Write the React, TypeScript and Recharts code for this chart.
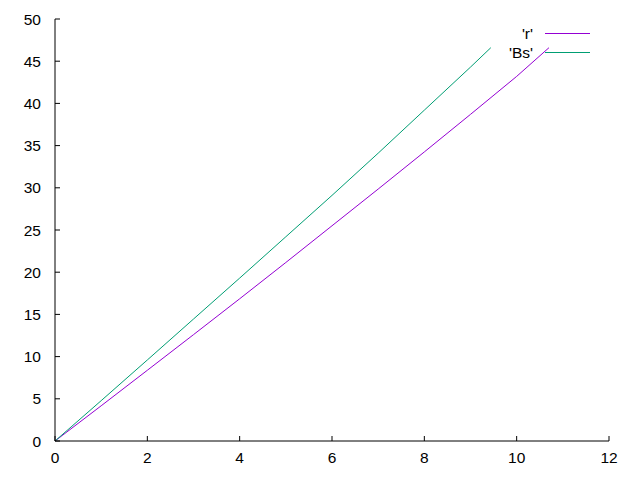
import { LineChart, Line, XAxis, YAxis } from 'recharts'

// values
const rX = [0, 1, 2, 3, 4, 5, 6, 7, 8, 9, 10, 10.7]
const rY = [0, 4.17, 8.38, 12.6, 16.85, 21.15, 25.5, 29.85, 34.25, 38.7, 43.2, 46.6]
const bsX = [0, 1, 2, 3, 4, 5, 6, 7, 8, 9, 9.44]
const bsY = [0, 4.78, 9.6, 14.45, 19.3, 24.2, 29.1, 34.1, 39.2, 44.3, 46.6]

const xTicks = [0, 2, 4, 6, 8, 10, 12]
const yTicks = [0, 5, 10, 15, 20, 25, 30, 35, 40, 45, 50]

const series = [
  { name: "'r'", color: '#9400d3', data: rX.map((x, i) => ({ x, y: rY[i] })) },
  { name: "'Bs'", color: '#009e73', data: bsX.map((x, i) => ({ x, y: bsY[i] })) },
]

const font = '"Liberation Sans", Arial, sans-serif'
const tickStyle = { fill: '#000', fontSize: 15.5, fontFamily: font }
const axisLine = { stroke: '#000', strokeWidth: 1 }

export default function App() {
  return (
    <div style={{ position: 'absolute', left: 0, top: 0, width: 640, height: 480, background: '#fff' }}>
      <LineChart width={640} height={480} margin={{ top: 19, right: 31, bottom: 0, left: 0 }}>
        <XAxis xAxisId="b" dataKey="x" type="number" domain={[0, 12]} ticks={xTicks} height={39}
          tick={tickStyle} tickSize={-5} tickMargin={16} axisLine={axisLine} tickLine={axisLine} />
        <XAxis xAxisId="t" orientation="top" dataKey="x" type="number" domain={[0, 12]} ticks={xTicks} height={0}
          tick={false} tickSize={-5} axisLine={axisLine} tickLine={axisLine} />
        <YAxis yAxisId="l" dataKey="y" type="number" domain={[0, 50]} ticks={yTicks} width={55}
          tick={tickStyle} tickSize={-5} tickMargin={19} axisLine={axisLine} tickLine={axisLine} />
        <YAxis yAxisId="r" orientation="right" dataKey="y" type="number" domain={[0, 50]} ticks={yTicks} width={0}
          tick={false} tickSize={-5} axisLine={axisLine} tickLine={axisLine} />
        {series.map(s => (
          <Line key={s.name} xAxisId="b" yAxisId="l" data={s.data} dataKey="y" name={s.name} type="linear"
            stroke={s.color} strokeWidth={1} dot={false} isAnimationActive={false} />
        ))}
      </LineChart>
      <svg width={640} height={480} style={{ position: 'absolute', left: 0, top: 0, pointerEvents: 'none' }}>
        {series.map((s, i) => (
          <g key={s.name}>
            <text x={533} y={33 + i * 19} textAnchor="end" dominantBaseline="central" fontSize={15.5} fontFamily={font} fill="#000">{s.name}</text>
            <line x1={545} x2={590} y1={33.5 + i * 19} y2={33.5 + i * 19} stroke={s.color} strokeWidth={1} />
          </g>
        ))}
      </svg>
    </div>
  )
}
